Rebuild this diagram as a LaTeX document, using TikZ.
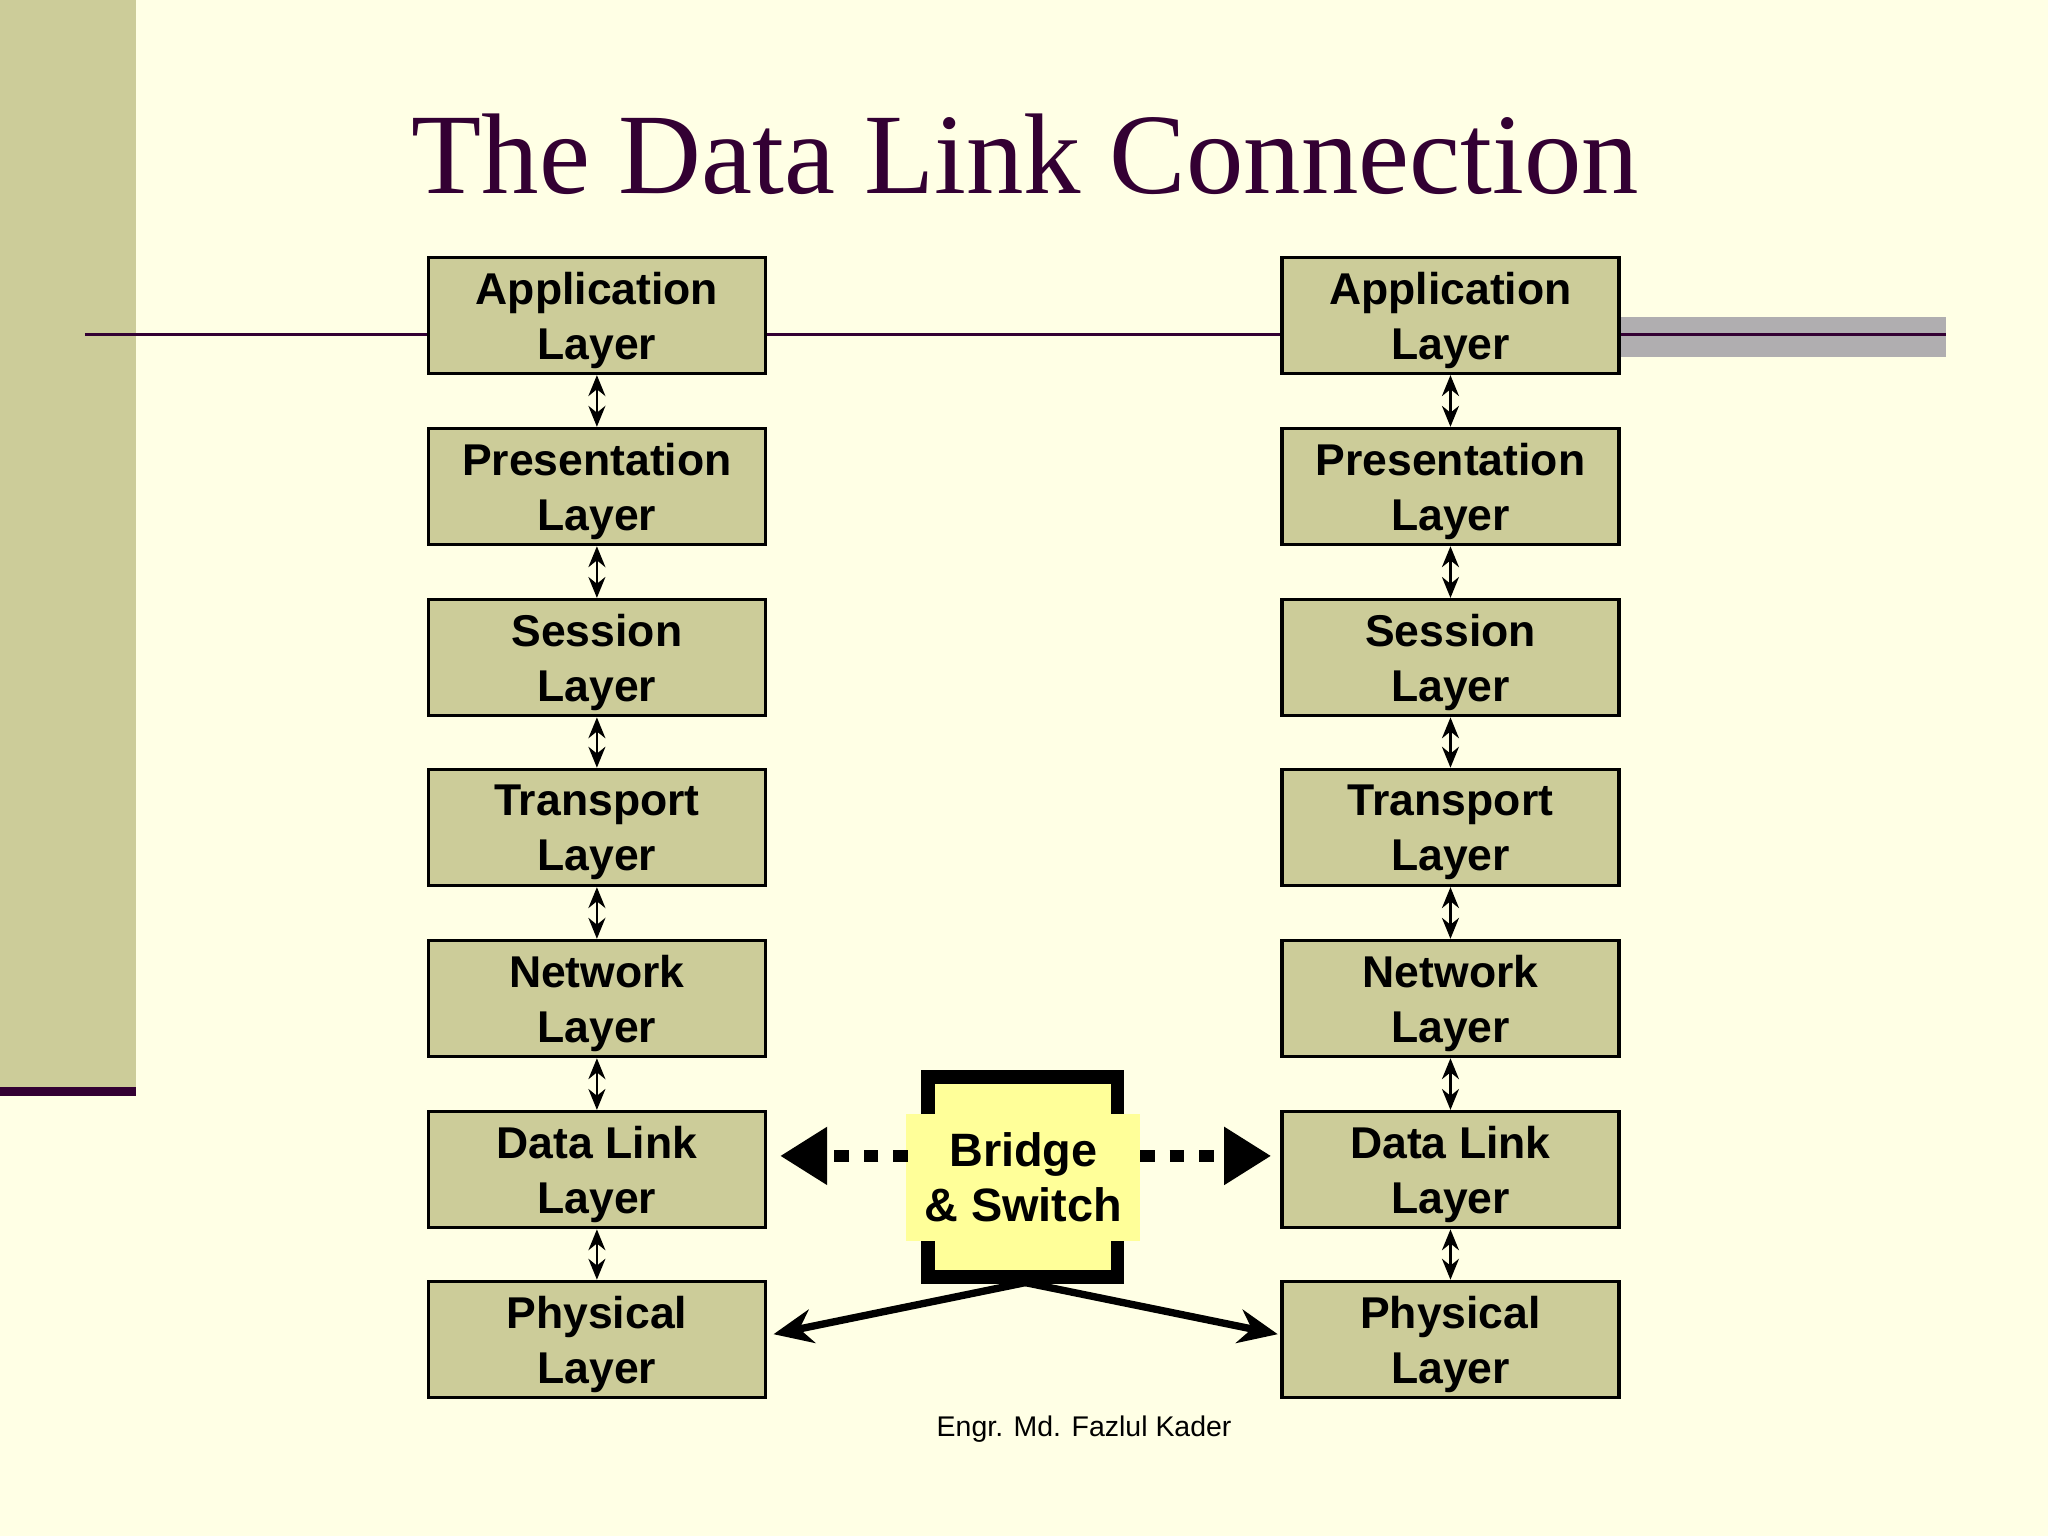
\documentclass[tikz,border=0pt]{standalone}
\usepackage{fontspec}
\setmainfont{Liberation Sans}
\newfontfamily\titlefont{Liberation Serif}
\usetikzlibrary{arrows.meta}
\definecolor{bg}{HTML}{FFFFE5}
\definecolor{olive}{HTML}{CCCC99}
\definecolor{plum}{HTML}{330033}
\definecolor{greybar}{HTML}{B0AEB0}
\definecolor{yel}{HTML}{FFFF99}
\begin{document}
\begin{tikzpicture}[x=1cm,y=1cm,
  layer/.style={draw=black,line width=0.7pt,fill=olive,minimum width=2.58cm,minimum height=0.89cm,
    align=center,font=\fontsize{9.7}{12}\selectfont\bfseries,inner sep=0pt,text depth=-0.1cm},
  link/.style={{Stealth[length=1.6mm,width=1.3mm]}-{Stealth[length=1.6mm,width=1.3mm]},line width=0.6pt},
  dashar/.style={line width=2.6pt,dash pattern=on 3.2pt off 3.2pt,-{Triangle[length=3.6mm,width=4.2mm]}},
  solar/.style={line width=1.6pt,-{Stealth[length=3mm,width=2.6mm]}}]
\useasboundingbox (0,0) rectangle (15.68,-11.76);
\fill[bg] (0,0) rectangle (15.68,-11.76);
\fill[olive] (0,0) rectangle (1.04,-8.38);
\fill[plum] (0,-8.32) rectangle (1.04,-8.39);
\fill[greybar] (12.40,-2.43) rectangle (14.90,-2.73);
\draw[plum,line width=0.7pt] (0.65,-2.56) -- (14.90,-2.56);
\node[font=\titlefont\fontsize{25}{30}\selectfont,text=plum] (title) at (7.85,-1.18) {The Data Link Connection};
\foreach \side/\cx in {L/4.57,R/11.105}{
  \node[layer] (\side1) at (\cx,-2.415) {Application\\Layer};
  \node[layer] (\side2) at (\cx,-3.725) {Presentation\\Layer};
  \node[layer] (\side3) at (\cx,-5.035) {Session\\Layer};
  \node[layer] (\side4) at (\cx,-6.335) {Transport\\Layer};
  \node[layer] (\side5) at (\cx,-7.645) {Network\\Layer};
  \node[layer] (\side6) at (\cx,-8.955) {Data Link\\Layer};
  \node[layer] (\side7) at (\cx,-10.255) {Physical\\Layer};
  \foreach \a/\b in {1/2,2/3,3/4,4/5,5/6,6/7}{
    \draw[link] (\side\a.south) -- (\side\b.north);
  }
}
\node[draw=black,line width=3pt,minimum width=1.45cm,minimum height=1.53cm,inner sep=0pt,fill=yel] (br) at (7.83,-9.01) {};
\node[fill=yel,minimum width=1.79cm,minimum height=0.97cm,inner sep=0pt,align=center,
  font=\fontsize{10.2}{12}\selectfont\bfseries] (brt) at (7.835,-9.015) {Bridge\\\& Switch};
\coordinate (dl) at (6.95,-8.85);
\coordinate (dr) at (8.73,-8.85);
\draw[dashar] (dl) -- ([xshift=0.1cm]L6.east |- dl);
\draw[dashar] (dr) -- ([xshift=-0.07cm]R6.west |- dr);
\coordinate (bm) at (7.85,-9.82);
\draw[solar] (bm) -- ([xshift=0.05cm,yshift=0.04cm]L7.east);
\draw[solar] (bm) -- ([xshift=-0.02cm,yshift=0.04cm]R7.west);
\node[font=\fontsize{6.2}{7}\selectfont] (foot) at (8.30,-10.94) {Engr. Md. Fazlul Kader};
\end{tikzpicture}
\end{document}
